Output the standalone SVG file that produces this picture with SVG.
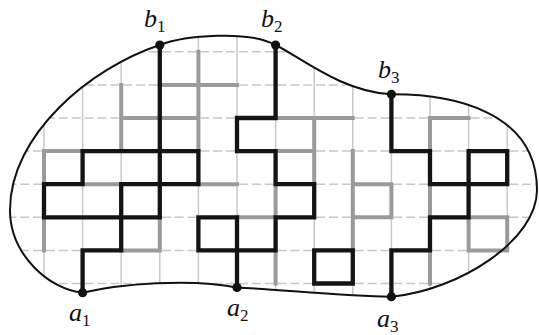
<svg xmlns="http://www.w3.org/2000/svg" width="539" height="335" viewBox="0 0 539 335">
<style>
.hg{stroke:#c8c8c8;stroke-width:1.5;stroke-dasharray:9 3.867;stroke-dashoffset:5.53;fill:none}
.vg{stroke:#c8c8c8;stroke-width:1.5;fill:none}
.gray{stroke:#9a9a9a;stroke-width:4;fill:none;stroke-linejoin:miter;stroke-linecap:square}
.blk{stroke:#141414;stroke-width:4.3;fill:none;stroke-linejoin:miter;stroke-linecap:butt}
.bnd{stroke:#111;stroke-width:2;fill:none}
.dot{fill:#111}
.lbl{font-family:"Liberation Serif","Times New Roman",serif;font-style:italic;font-size:26px;fill:#111}
.sub{font-style:normal;font-size:17px}
</style>
<defs>
<clipPath id="blob">
<path d="M 82.6 292.7 C 50 290, 10 255, 10 210 C 10 135, 90 68, 159.8 45 C 185 35.5, 248 30, 275.6 45 C 300 57, 342 92, 391.4 94.3 C 450 94, 537 110, 537 190 C 537 240, 460 290, 391.4 296.7 C 350 297, 275 289, 237 287.5 C 190 278, 120 284, 82.6 292.7 Z"/>
</clipPath>
</defs>
<g id="grid" clip-path="url(#blob)">
<path class="hg" d="M0 51.8H539M0 84.9H539M0 118H539M0 151.1H539M0 184.2H539M0 217.3H539M0 250.4H539M0 283.5H539"/>
<path class="vg" d="M44 0V335M82.6 0V335M121.2 0V335M159.8 0V335M198.4 0V335M237 0V335M275.6 0V335M314.2 0V335M352.8 0V335M391.4 0V335M430 0V335M468.6 0V335M507.2 0V335"/>
</g>
<g id="gray-config">
<path class="gray" d="M198.4 51.8V151.1M159.8 84.9H237M121.2 84.9V151.1M121.2 118H198.4M82.6 151.1H44V184.2M82.6 184.2H121.2M44 217.3V250.4M121.2 250.4H159.8V217.3M198.4 184.2H237"/>
<path class="gray" d="M275.6 118H352.8M314.2 118V184.2M275.6 151.1H314.2M275.6 184.2V217.3M237 217.3H275.6M275.6 250.4V283.5M352.8 151.1V250.4M352.8 184.2H391.4V217.3H352.8"/>
<path class="gray" d="M468.6 118H430V151.1M430 184.2V217.3M430 250.4V283.5M468.6 217.3H507.2V250.4H468.6Z"/>
</g>
<g id="connectors">
<path class="blk" d="M159.8 45V217.3H44V184.2H82.6V151.1H198.4V184.2H121.2V250.4H82.6V292.7"/>
<path class="blk" d="M275.6 45V118H237V151.1H275.6V184.2H314.2V217.3H275.6V250.4H198.4V217.3H237V287.5"/>
<path class="blk" d="M391.4 94.3V151.1H430V184.2H507.2V151.1H468.6V217.3H430V250.4H391.4V296.7"/>
<path class="blk" d="M314.2 250.4H352.8V283.5H314.2Z"/>
</g>
<g id="boundary">
<path class="bnd" d="M 82.6 292.7 C 50 290, 10 255, 10 210 C 10 135, 90 68, 159.8 45 C 185 35.5, 248 30, 275.6 45 C 300 57, 342 92, 391.4 94.3 C 450 94, 537 110, 537 190 C 537 240, 460 290, 391.4 296.7 C 350 297, 275 289, 237 287.5 C 190 278, 120 284, 82.6 292.7 Z"/>
</g>
<g id="b1"><circle class="dot" cx="159.8" cy="45" r="4.6"/><text class="lbl" x="144" y="27">b<tspan class="sub" dy="5">1</tspan></text></g>
<g id="b2"><circle class="dot" cx="275.6" cy="45" r="4.6"/><text class="lbl" x="261" y="27">b<tspan class="sub" dy="5">2</tspan></text></g>
<g id="b3"><circle class="dot" cx="391.4" cy="94.3" r="4.6"/><text class="lbl" x="378" y="78">b<tspan class="sub" dy="5">3</tspan></text></g>
<g id="a1"><circle class="dot" cx="82.6" cy="292.7" r="4.6"/><text class="lbl" x="69" y="321">a<tspan class="sub" dy="5">1</tspan></text></g>
<g id="a2"><circle class="dot" cx="237" cy="287.5" r="4.6"/><text class="lbl" x="227" y="316">a<tspan class="sub" dy="5">2</tspan></text></g>
<g id="a3"><circle class="dot" cx="391.4" cy="296.7" r="4.6"/><text class="lbl" x="377" y="327">a<tspan class="sub" dy="5">3</tspan></text></g>
</svg>
